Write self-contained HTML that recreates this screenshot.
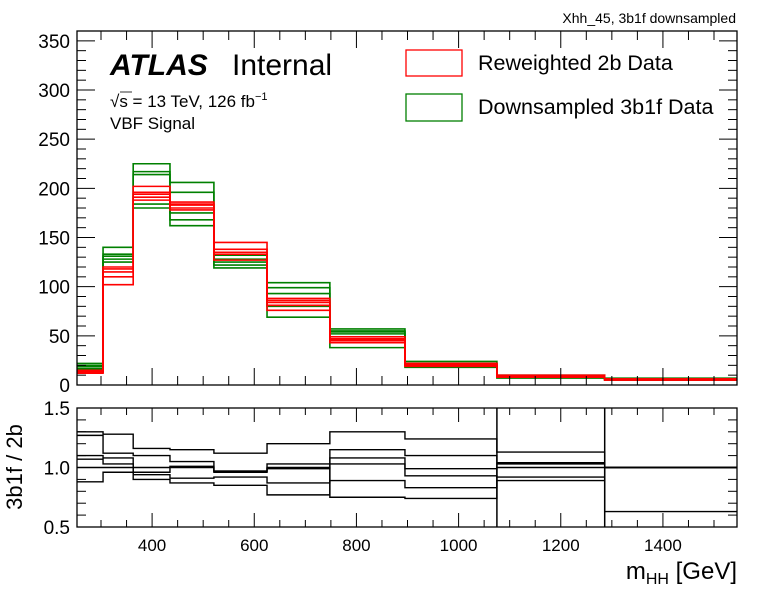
<!DOCTYPE html>
<html><head><meta charset="utf-8"><style>
body{margin:0;background:#fff;}
svg{display:block;font-family:"Liberation Sans",sans-serif;}
</style></head><body>
<svg id="c" width="775" height="592" viewBox="0 0 775 592"></svg>
<script>
const edges=[253,304,363,435,521,625,748,895,1075,1286,1545];
const red1=[12,120,202,186,145,88,49,22,9,6];
const red2=[13,110,196,183,138,84,46,20,8,5];
const red3=[14,102,191,180,135,81,43,21,10,6];
const red4=[15,118,188,178,127,76,47,19,9,5];
const red5=[13,115,194,184,133,86,45,22,8,6];
const grn1=[22,140,225,206,132,104,57,24,10,7];
const grn2=[19,133,217,196,125,99,54,18,8,5];
const grn3=[17,131,214,168,122,93,38,20,9,6];
const grn4=[20,125,180,162,119,69,52,22,7,5];
const grn5=[16,128,184,175,128,80,55,21,9,6];
const rat1=[1.30,1.28,1.16,1.15,1.12,1.20,1.30,1.24,1.13,1.00];
const rat2=[1.27,1.12,1.10,1.05,0.97,1.03,1.15,1.10,1.04,0.63];
const rat3=[1.10,1.08,0.96,1.01,0.96,0.99,1.08,0.99,1.03,1.00];
const rat4=[1.07,1.03,0.94,0.91,0.92,0.87,1.03,0.93,0.92,1.00];
const rat5=[0.88,0.96,0.90,0.87,0.85,0.77,0.89,0.83,0.89,1.00];
const rat6=[1.00,1.00,1.00,1.00,0.97,1.00,0.75,0.74,1.00,1.00];
const yTicks=[0,50,100,150,200,250,300,350];
const xTicks=[400,600,800,1000,1200,1400];
const rTicks=[0.5,1.0,1.5];
const rTickLabels=["0.5","1.0","1.5"];

const NS="http://www.w3.org/2000/svg";
const svg=document.getElementById('c');
const L=77,R=737,T=31,B=385,RT=408,RB=527;
const X=v=>L+(v-253)/(1545-253)*(R-L);
const Y=v=>B-v/360*(B-T);
const RY=v=>RB-(v-0.5)/1.0*(RB-RT);
function el(tag,attrs,parent){const e=document.createElementNS(NS,tag);for(const k in attrs)e.setAttribute(k,attrs[k]);(parent||svg).appendChild(e);return e;}
function txt(s,x,y,size,anchor,extra,name){const t=el('text',Object.assign({x:x,y:y,'font-size':size,'text-anchor':anchor||'start'},extra||{}));t.textContent=s;return t;}

function hist(vals,color,w,name,yf,clip){
  let d='';
  for(let i=0;i<vals.length;i++){
    const x0=X(edges[i]),x1=X(edges[i+1]),y=yf(vals[i]);
    d+=(i==0?'M'+x0+','+y:'L'+x0+','+y)+'L'+x1+','+y;
  }
  const p=el('path',{d:d,fill:'none',stroke:color,'stroke-width':w,'clip-path':clip});
  
  
}
const defs=el('defs',{});
const cp1=el('clipPath',{id:'cm'},defs);el('rect',{x:L,y:T,width:R-L,height:B-T},cp1);
const cp2=el('clipPath',{id:'cr'},defs);el('rect',{x:L,y:RT,width:R-L,height:RB-RT},cp2);

[grn1,grn2,grn3,grn4,grn5].forEach((s,i)=>hist(s,'#008000',1.6,'green-variation-'+(i+1),Y,'url(#cm)'));
[red1,red2,red3,red4,red5].forEach((s,i)=>hist(s,'#ff0000',1.6,'red-variation-'+(i+1),Y,'url(#cm)'));
[rat1,rat2,rat3,rat4,rat5,rat6].forEach((s,i)=>hist(s,'#000',1.4,'ratio-line-'+(i+1),RY,'url(#cr)'));
[1075,1286].forEach(v=>{const l=el('line',{x1:X(v),x2:X(v),y1:RT,y2:RB,stroke:'#000','stroke-width':1.5});});

const f1=el('rect',{x:L,y:T,width:R-L,height:B-T,fill:'none',stroke:'#000','stroke-width':1.3});

const f2=el('rect',{x:L,y:RT,width:R-L,height:RB-RT,fill:'none',stroke:'#000','stroke-width':1.3});


for(let v=0;v<=360;v+=10){const maj=v%50==0,len=maj?18:9;
  el('line',{x1:L,x2:L+len,y1:Y(v),y2:Y(v),stroke:'#000'});
  el('line',{x1:R,x2:R-len,y1:Y(v),y2:Y(v),stroke:'#000'});}
yTicks.forEach(v=>txt(String(v),70,Y(v)+7,19,'end',{},'y-tick-label'));
for(let v=300;v<=1500;v+=50){const maj=v%200==0,len=maj?17:9;
  [[B,-1],[T,1]].forEach(([yy,s])=>el('line',{x1:X(v),x2:X(v),y1:yy,y2:yy+s*len,stroke:'#000'}));
  [[RB,-1],[RT,1]].forEach(([yy,s])=>el('line',{x1:X(v),x2:X(v),y1:yy,y2:yy+s*(maj?14:7),stroke:'#000'}));}
xTicks.forEach(v=>txt(String(v),X(v),551,17,'middle',{},'x-tick-label'));
for(let v=0.5;v<=1.501;v+=0.1){const maj=Math.abs(v*2-Math.round(v*2))<0.01,len=maj?18:9;
  el('line',{x1:L,x2:L+len,y1:RY(v),y2:RY(v),stroke:'#000'});
  el('line',{x1:R,x2:R-len,y1:RY(v),y2:RY(v),stroke:'#000'});}
rTicks.forEach((v,i)=>txt(rTickLabels[i],70,RY(v)+7,19,'end',{},'ratio-tick-label'));

txt('Xhh_45, 3b1f downsampled',736,23,14,'end',{},'plot-title');
txt('3b1f / 2b',0,0,22,'middle',{transform:'translate(22,467) rotate(-90)'},'y-axis-title');
const xl=txt('m',737,579,24,'end',{},'x-axis-title');
xl.innerHTML='m<tspan font-size="16" dy="5">HH</tspan><tspan dy="-5"> [GeV]</tspan>';
txt('ATLAS',110,75,30,'start',{'font-weight':'bold','font-style':'italic'},'atlas-label');
txt('Internal',232,75,30,'start',{},'internal-label');
const sq=txt('',110,107,17,'start',{},'energy-lumi-label');
sq.innerHTML='\u221As = 13 TeV, 126 fb<tspan font-size="11" dy="-7">\u22121</tspan>';
el('line',{x1:120,x2:132,y1:92,y2:92,stroke:'#000','stroke-width':0.8});
txt('VBF Signal',110,129,17,'start',{},'signal-label');
const lr=el('rect',{x:406,y:50,width:56,height:26,fill:'none',stroke:'#ff0000','stroke-width':1.3});

txt('Reweighted 2b Data',478,70,21.5,'start',{},'legend-red-label');
const lg=el('rect',{x:406,y:94,width:56,height:27,fill:'none',stroke:'#008000','stroke-width':1.3});

txt('Downsampled 3b1f Data',478,114,21.5,'start',{},'legend-green-label');
</script>
</body></html>
